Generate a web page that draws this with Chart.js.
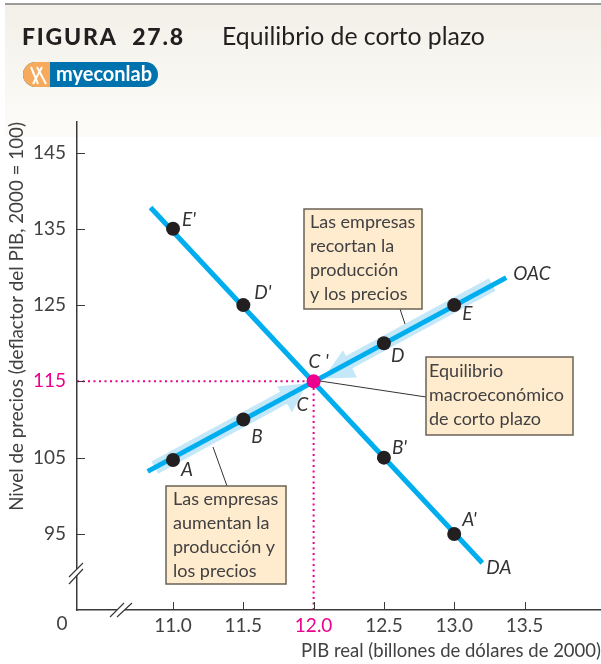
<!DOCTYPE html>
<html>
<head>
<meta charset="utf-8">
<title>Equilibrio de corto plazo</title>
<script src="https://cdn.jsdelivr.net/npm/chart.js@4/dist/chart.umd.min.js"></script>
<style>
  html, body { margin: 0; padding: 0; background: #fff; }
  canvas { display: block; }
</style>
</head>
<body>
<canvas id="chart" width="601" height="664"></canvas>
<script>
// Axis ticks
const xTicks = [11, 11.5, 12, 12.5, 13, 13.5];
const yTicks = [95, 105, 115, 125, 135, 145];
const xRange = [10.317, 14.044];
const yRange = [85.03, 149];

// Curves (ends)
const oacX = [10.82, 13.37];
const oacY = [103.2, 128.6];
const daX = [10.84, 13.2];
const daY = [137.8, 91.2];

// Marked points
const oacPointsX = [11, 11.5, 12.5, 13];
const oacPointsY = [104.7, 110, 120, 125];
const daPointsX = [11, 11.5, 12.5, 13];
const daPointsY = [135, 125, 105, 95];
const eqX = [12];
const eqY = [115];

// Pale bands and arrow heads along OAC
const bandLowX = [10.87, 11.85];
const bandLowY = [103.7, 113.5];
const bandHighX = [12.2, 13.27];
const bandHighY = [117, 127.7];
const arrowLowX = [11.953, 11.74, 11.846];
const arrowLowY = [114.74, 114.34, 110.93];
const arrowHighX = [12.067, 12.209, 12.309];
const arrowHighY = [115.39, 119.07, 115.52];

const pts = (xs, ys) => xs.map((x, i) => ({ x: x, y: ys[i] }));

const BLUE = '#00aeef';
const PALE = '#c5e8f9';
const PINK = '#ec008c';
const INK = '#231f20';
const TEXT = '#414042';
const FONT = 'Lato, "Open Sans", sans-serif';

// Italic labels next to the curves, offset in pixels from the data point
const pointLabels = [
  ['A', 11, 104.7, 8, 10], ['B', 11.5, 110, 8, 17], ['C', 12, 115, -17, 24], ["C '", 12, 115, -5, -19],
  ['D', 12.5, 120, 7, 13], ['E', 13, 125, 8, 9], ['OAC', 13.37, 128.6, 7, -4],
  ["E'", 11, 135, 9, -9], ["D'", 11.5, 125, 11, -12], ["B'", 12.5, 105, 8, -10],
  ["A'", 13, 95, 8, -14], ['DA', 13.2, 91.2, 4, 5]
];

// Note boxes in page pixels
const notes = [
  { box: [304, 209, 118, 100], lines: ['Las empresas', 'recortan la', 'producción', 'y los precios'], tx: 310, ty: 222, lead: [400, 309, 405, 324] },
  { box: [426, 357, 147, 78], lines: ['Equilibrio', 'macroeconómico', 'de corto plazo'], tx: 429, ty: 371, lead: [320, 381, 426, 397] },
  { box: [166, 486, 120, 98], lines: ['Las empresas', 'aumentan la', 'producción y', 'los precios'], tx: 173, ty: 499, lead: [213, 447, 227, 486] }
];

const headerPlugin = {
  id: 'header',
  beforeDraw(chart) {
    const c = chart.ctx;
    c.save();
    const g = c.createLinearGradient(0, 5, 0, 137);
    g.addColorStop(0, '#f2f0e8');
    g.addColorStop(0.75, '#faf9f5');
    g.addColorStop(1, '#fcfbf8');
    c.fillStyle = g;
    c.fillRect(5, 5, 596, 132);
    c.fillStyle = '#9b9b9b';
    c.fillRect(5, 3, 596, 2);

    c.fillStyle = INK;
    c.textBaseline = 'alphabetic';
    c.font = '900 23px ' + FONT;
    c.letterSpacing = '1.8px';
    c.fillText('FIGURA  27.8', 22, 45);
    c.letterSpacing = '0px';
    c.font = '24.8px ' + FONT;
    c.fillText('Equilibrio de corto plazo', 222, 45);

    // myeconlab pill
    c.beginPath();
    c.roundRect(23, 62, 135, 25, 12.5);
    c.save();
    c.clip();
    c.fillStyle = '#0073ae';
    c.fillRect(23, 62, 135, 25);
    c.fillStyle = '#f7a95c';
    c.fillRect(23, 62, 27, 25);
    c.strokeStyle = '#fff';
    c.lineWidth = 2;
    c.beginPath();
    c.moveTo(31, 67); c.lineTo(38, 84);
    c.moveTo(42, 67); c.lineTo(33, 84);
    c.moveTo(37, 67); c.lineTo(46, 84);
    c.stroke();
    c.restore();
    c.fillStyle = '#fff';
    c.font = '700 20px ' + FONT;
    c.fillText('myeconlab', 56, 81);
    c.restore();
  }
};

const axisPlugin = {
  id: 'axisMarks',
  afterDatasetsDraw(chart) {
    const c = chart.ctx;
    const xs = chart.scales.x;
    const ys = chart.scales.y;
    const x0 = chart.chartArea.left;
    const y0 = chart.chartArea.bottom;
    c.save();

    // inward ticks
    c.strokeStyle = '#3a3a3a';
    c.lineWidth = 1;
    c.beginPath();
    xTicks.forEach(v => {
      const p = Math.round(xs.getPixelForValue(v)) + 0.5;
      c.moveTo(p, y0); c.lineTo(p, y0 - 8);
    });
    yTicks.forEach(v => {
      const p = Math.round(ys.getPixelForValue(v)) + 0.5;
      c.moveTo(x0, p); c.lineTo(x0 + 8, p);
    });
    c.stroke();

    // axis breaks
    const cuts = [
      [[69, 577, 83, 563], [69, 584, 83, 569]],
      [[110, 617, 124, 603], [117, 617, 132, 603]]
    ];
    cuts.forEach(pair => {
      const a = pair[0], b = pair[1];
      c.fillStyle = '#fff';
      c.beginPath();
      c.moveTo(a[0], a[1]); c.lineTo(a[2], a[3]); c.lineTo(b[2], b[3]); c.lineTo(b[0], b[1]);
      c.closePath();
      c.fill();
      c.strokeStyle = '#3a3a3a';
      c.lineWidth = 1.2;
      c.beginPath();
      c.moveTo(a[0], a[1]); c.lineTo(a[2], a[3]);
      c.moveTo(b[0], b[1]); c.lineTo(b[2], b[3]);
      c.stroke();
    });

    c.fillStyle = TEXT;
    c.font = '19px ' + FONT;
    c.textAlign = 'center';
    c.textBaseline = 'middle';
    c.fillText('0', 62, 624);

    // curve labels
    c.fillStyle = '#333';
    c.font = 'italic 19px ' + FONT;
    c.textAlign = 'left';
    pointLabels.forEach(l => {
      c.fillText(l[0], xs.getPixelForValue(l[1]) + l[3], ys.getPixelForValue(l[2]) + l[4]);
    });

    // note boxes and leader lines
    notes.forEach(n => {
      c.strokeStyle = '#333';
      c.lineWidth = 1;
      c.beginPath();
      c.moveTo(n.lead[0], n.lead[1]);
      c.lineTo(n.lead[2], n.lead[3]);
      c.stroke();
      c.fillStyle = '#ffecce';
      c.fillRect(n.box[0], n.box[1], n.box[2], n.box[3]);
      c.strokeStyle = '#6a6256';
      c.lineWidth = 1.5;
      c.strokeRect(n.box[0], n.box[1], n.box[2], n.box[3]);
      c.fillStyle = TEXT;
      c.font = '18px ' + FONT;
      c.textAlign = 'left';
      c.textBaseline = 'middle';
      n.lines.forEach((t, i) => c.fillText(t, n.tx, n.ty + i * 24));
    });
    c.restore();
  }
};

const lineSet = (data, color, width, order, extra) => Object.assign({
  data: data,
  showLine: true,
  borderColor: color,
  borderWidth: width,
  pointRadius: 0,
  borderCapStyle: 'butt',
  order: order
}, extra || {});

const dotSet = (data, color, order) => ({
  data: data,
  showLine: false,
  pointRadius: 7,
  pointHoverRadius: 7,
  pointBackgroundColor: color,
  pointBorderWidth: 0,
  order: order
});

new Chart(document.getElementById('chart'), {
  type: 'scatter',
  data: {
    datasets: [
      dotSet(pts(eqX, eqY), PINK, 1),
      dotSet(pts(oacPointsX, oacPointsY), INK, 2),
      dotSet(pts(daPointsX, daPointsY), INK, 2),
      lineSet(pts(oacX, oacY), BLUE, 5, 4),
      lineSet(pts(daX, daY), BLUE, 5, 4),
      lineSet(pts([xRange[0], eqX[0]], [eqY[0], eqY[0]]), PINK, 2, 3, { borderDash: [2, 3.5] }),
      lineSet(pts([eqX[0], eqX[0]], [yRange[0], eqY[0]]), PINK, 2, 3, { borderDash: [2, 3.5] }),
      lineSet(pts(bandLowX, bandLowY), PALE, 14, 6),
      lineSet(pts(bandHighX, bandHighY), PALE, 14, 6),
      lineSet(pts(arrowLowX, arrowLowY), PALE, 0, 5, { fill: 'shape', backgroundColor: PALE }),
      lineSet(pts(arrowHighX, arrowHighY), PALE, 0, 5, { fill: 'shape', backgroundColor: PALE })
    ]
  },
  options: {
    responsive: false,
    animation: false,
    layout: { autoPadding: false, padding: { top: 122, left: 0, right: 0, bottom: 0 } },
    plugins: { legend: { display: false }, tooltip: { enabled: false } },
    events: [],
    scales: {
      x: {
        type: 'linear',
        min: xRange[0],
        max: xRange[1],
        afterBuildTicks: s => { s.ticks = xTicks.map(v => ({ value: v })); },
        afterFit: s => { s.height = 54; },
        grid: { display: false, drawTicks: false },
        border: { display: true, color: '#3a3a3a', width: 1.5 },
        ticks: {
          autoSkip: false,
          maxRotation: 0,
          padding: 4,
          font: { family: FONT, size: 19 },
          color: ctx => ctx.tick.value === eqX[0] ? PINK : TEXT,
          callback: v => Number(v).toFixed(1)
        },
        title: {
          display: true,
          text: 'PIB real (billones de dólares de 2000)',
          align: 'end',
          color: TEXT,
          font: { family: FONT, size: 18.5 },
          padding: { top: 0, bottom: 2 }
        }
      },
      y: {
        type: 'linear',
        min: yRange[0],
        max: yRange[1],
        afterBuildTicks: s => { s.ticks = yTicks.map(v => ({ value: v })); },
        afterFit: s => { s.width = 77; },
        grid: { display: false, drawTicks: false },
        border: { display: true, color: '#3a3a3a', width: 1.5 },
        ticks: {
          autoSkip: false,
          padding: 11,
          font: { family: FONT, size: 19 },
          color: ctx => ctx.tick.value === eqY[0] ? PINK : TEXT,
          callback: v => String(v)
        },
        title: {
          display: true,
          text: 'Nivel de precios (deflactor del PIB, 2000 = 100)',
          align: 'end',
          color: TEXT,
          font: { family: FONT, size: 18.8 },
          padding: { top: 6, bottom: 0 }
        }
      }
    }
  },
  plugins: [headerPlugin, axisPlugin]
});
</script>
</body>
</html>
